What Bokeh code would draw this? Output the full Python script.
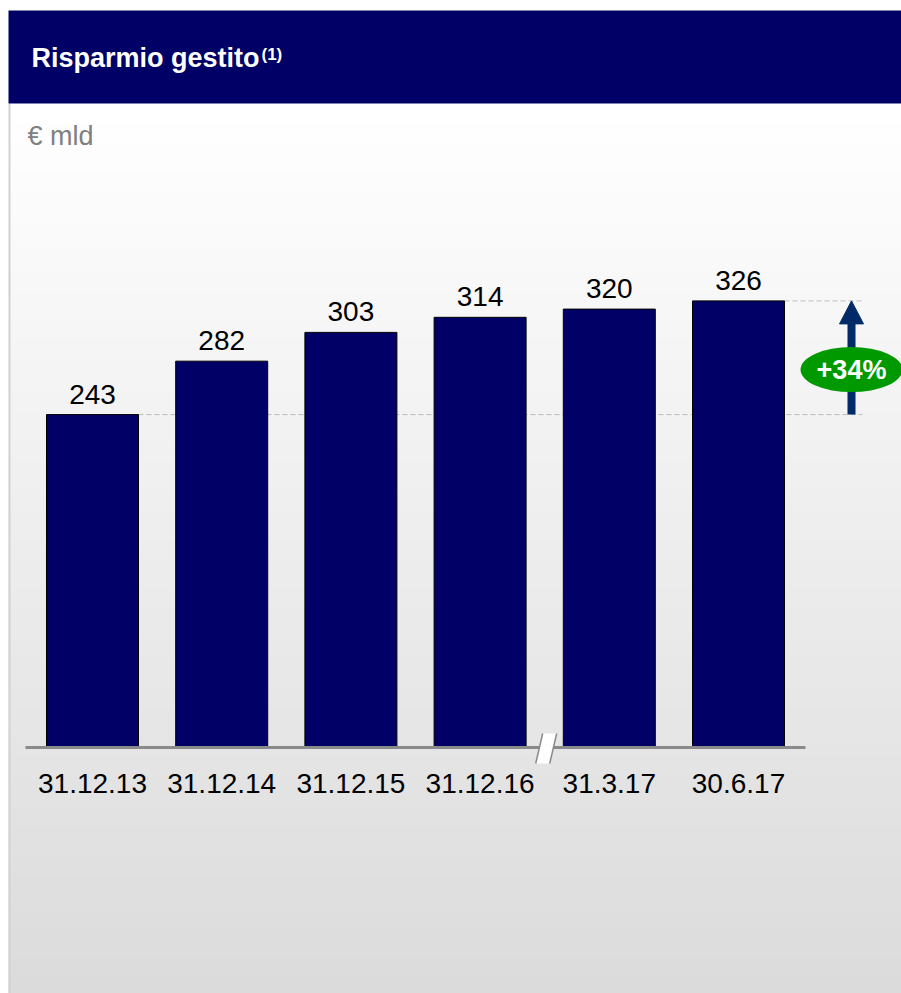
from bokeh.plotting import figure
from bokeh.models import Range1d
from bokeh.core.properties import value
from bokeh.embed import file_html
from bokeh.resources import INLINE

# ---- data ----
categories = ["31.12.13", "31.12.14", "31.12.15", "31.12.16", "31.3.17", "30.6.17"]
values = [243, 282, 303, 314, 320, 326]
title_text = "Risparmio gestito"
title_sup = "(1)"
unit_text = "€ mld"
growth_text = "+34%"

# ---- layout (pixels) ----
W, H = 901, 993
OFF = 0                 # figure origin in picture
X0 = 92                 # figure x of first category centre
STEP = 129.2            # px per category
BASE = 747              # figure y (from top) of zero line
PPU = 1.37              # px per value unit
BAR_W = 92 / STEP
FONT = value("Liberation Sans")

def X(px):  # picture x -> data x
    return (px - OFF - X0) / STEP

def Y(py):  # picture y -> data y
    return (BASE + OFF - py) / PPU

p = figure(width=W, height=H, output_backend="svg", toolbar_location=None,
           x_range=Range1d(-X0 / STEP, (W - X0) / STEP),
           y_range=Range1d((BASE - H) / PPU, BASE / PPU),
           x_axis_location=None, y_axis_location=None, min_border=0)
p.grid.visible = False
p.outline_line_color = None
p.background_fill_color = "white"
p.border_fill_color = "white"

# background gradient (panel)
top_px, bot_px = 103, 995
n = 90
step = (bot_px - top_px) / n
tops, bots, cols = [], [], []
for k in range(n):
    t = k / (n - 1)
    g = int(round(255 - t * (255 - 219)))
    cols.append("#%02x%02x%02x" % (g, g, g))
    tops.append(Y(top_px + k * step))
    bots.append(Y(top_px + (k + 1) * step + 1))
p.quad(left=X(8), right=X(W + 5), top=tops, bottom=bots, fill_color=cols, line_color=None)

# left panel border
p.segment(x0=[X(9)], y0=[Y(103)], x1=[X(9)], y1=[Y(995)], line_color="#d2d2d2", line_width=2)

# header band
p.quad(left=[X(8)], right=[X(W + 5)], top=[Y(10)], bottom=[Y(103)],
       fill_color="#000066", line_color=None)
p.text(x=[X(31)], y=[Y(57.5)], text=[title_text], text_font=FONT, text_font_size="27px",
       text_font_style="bold", text_color="white", text_baseline="middle")
p.text(x=[X(261)], y=[Y(53.5)], text=[title_sup], text_font=FONT, text_font_size="17px",
       text_font_style="bold", text_color="white", text_baseline="middle")

# unit label
p.text(x=[X(27)], y=[Y(135.5)], text=[unit_text], text_font=FONT, text_font_size="27px",
       text_color="#808080", text_baseline="middle")

xs = list(range(len(categories)))

# dashed reference lines
last = len(values) - 1
p.segment(x0=[xs[0] + BAR_W / 2, xs[last] + BAR_W / 2], y0=[values[0], values[last]],
          x1=[X(862), X(862)], y1=[values[0], values[last]],
          line_color="#bdbdbd", line_width=1, line_dash="5 3")

# bars
p.vbar(x=xs, top=values, bottom=0, width=BAR_W, fill_color="#000066",
       line_color="black", line_width=1)

# value labels (centred 20 px above bar tops)
p.text(x=xs, y=[v + 20.5 / PPU for v in values], text=[str(v) for v in values], text_font=FONT,
       text_font_size="28px", text_color="black", text_align="center", text_baseline="middle")

# axis line
p.segment(x0=[X(25)], y0=[0], x1=[X(805)], y1=[0], line_color="#8a8a8a", line_width=3)

# axis break mark between 4th and 5th category
bx = 3.5
sx = 1 / STEP
sy = 1 / PPU
bxs = [bx - 2 * sx, bx + 12 * sx, bx + 5 * sx, bx - 9 * sx]
bys = [14 * sy, 14 * sy, -16 * sy, -16 * sy]
p.patch(x=bxs, y=bys, fill_color="white", line_color=None)
p.segment(x0=[bxs[0], bxs[1]], y0=[bys[0], bys[1]], x1=[bxs[3], bxs[2]], y1=[bys[3], bys[2]],
          line_color="#8a8a8a", line_width=1.5)

# category labels
p.text(x=xs, y=[-36 / PPU] * len(xs), text=categories, text_font=FONT, text_font_size="28px",
       text_color="black", text_align="center", text_baseline="middle")

# growth arrow
ax = X(851)
head_len = 23 / PPU
head_half = 12 / STEP
p.segment(x0=[ax], y0=[values[0]], x1=[ax], y1=[values[last] - head_len + 1],
          line_color="#002b66", line_width=8)
p.patch(x=[ax - head_half, ax + head_half, ax], y=[values[last] - head_len, values[last] - head_len, values[last]],
        fill_color="#002b66", line_color="#002b66", line_width=1)

# growth badge
gy = values[0] + 45 / PPU
p.ellipse(x=[ax], y=[gy], width=102, height=45, width_units="screen", height_units="screen",
          fill_color="#009a00", line_color=None)
p.text(x=[ax], y=[gy], text=[growth_text], text_font=FONT, text_font_size="27px",
       text_font_style="bold", text_color="white", text_align="center", text_baseline="middle")

open("out.html", "w").write(file_html(p, INLINE))
